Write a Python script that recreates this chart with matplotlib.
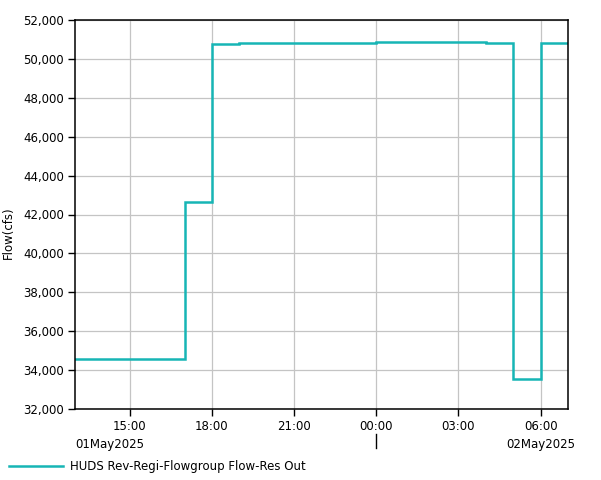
import numpy as np
import matplotlib
matplotlib.use('Agg')
import matplotlib.pyplot as plt
import matplotlib.dates as mdates
from matplotlib.ticker import FuncFormatter, MultipleLocator
from datetime import datetime

# step changes (time of change, flow after change)
times = ['2025-05-01 13:00', '2025-05-01 17:00', '2025-05-01 18:00',
         '2025-05-01 19:00', '2025-05-02 00:00', '2025-05-02 04:00',
         '2025-05-02 05:00', '2025-05-02 06:00', '2025-05-02 07:00']
flows = [34550, 42650, 50750, 50800, 50850, 50800, 33520, 50800, 50800]
series_name = 'HUDS Rev-Regi-Flowgroup Flow-Res Out'

t = [datetime.strptime(s, '%Y-%m-%d %H:%M') for s in times]

fig = plt.figure(figsize=(6.01, 4.8), dpi=100)
ax = fig.add_axes([75 / 601, 71 / 480, 493 / 601, 389 / 480])

line, = ax.step(t, flows, where='post', color='#17b5b5', lw=1.8,
                solid_joinstyle='miter')

ax.set_xlim(t[0], t[-1])
ax.set_ylim(32000, 52000)
ax.yaxis.set_major_locator(MultipleLocator(2000))
ax.yaxis.set_major_formatter(FuncFormatter(lambda v, p: '{:,.0f}'.format(v)))
ax.xaxis.set_major_locator(mdates.HourLocator(byhour=[0, 3, 6, 9, 12, 15, 18, 21]))
ax.xaxis.set_major_formatter(mdates.DateFormatter('%H:%M'))

ax.grid(True, color='#c4c4c4', lw=0.9)
ax.set_axisbelow(True)
for s in ax.spines.values():
    s.set_color('black')
    s.set_linewidth(1.1)
ax.tick_params(direction='out', length=5, width=1, labelsize=8.5, pad=3)

ax.set_ylabel('Flow(cfs)', fontsize=8.5)
ax.yaxis.set_label_coords(-0.122, 0.452)

# day labels under the hour labels
xform = ax.get_xaxis_transform()
ax.text(0.0, -0.075, '01May2025', transform=ax.transAxes, fontsize=8.5,
        ha='left', va='top')
ax.text(mdates.date2num(datetime(2025, 5, 2, 6)), -0.075, '02May2025',
        transform=xform, fontsize=8.5, ha='center', va='top')
midnight = mdates.date2num(datetime(2025, 5, 2, 0))
ax.plot([midnight, midnight], [-0.063, -0.1], color='black', lw=1,
        transform=xform, clip_on=False)

fig.legend([line], [series_name], loc='lower left', bbox_to_anchor=(-0.005, -0.01),
           frameon=False, fontsize=8.5, handlelength=4.6, handletextpad=0.6,
           borderaxespad=0.6)

fig.savefig('out.png', dpi=100)
